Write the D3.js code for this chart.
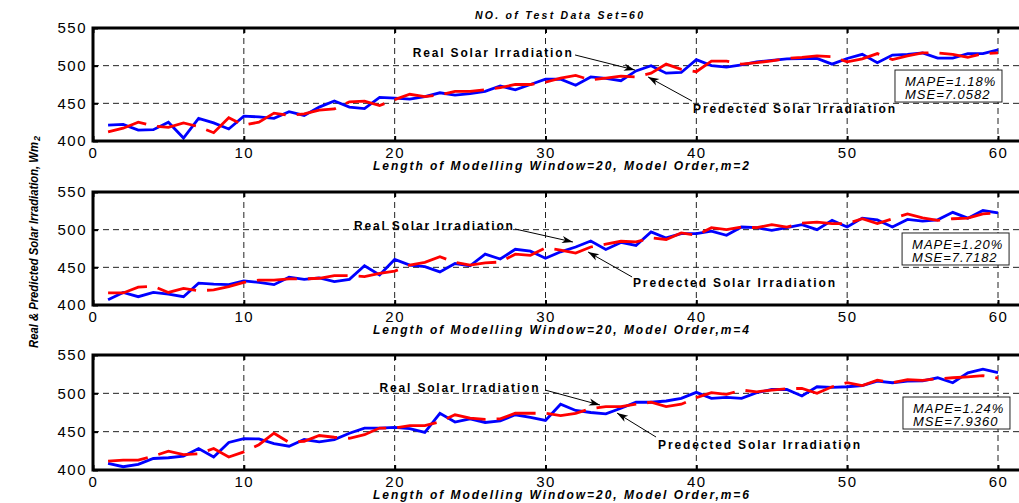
<!DOCTYPE html>
<html>
<head>
<meta charset="utf-8">
<script src="https://cdn.jsdelivr.net/npm/d3@7/dist/d3.min.js"></script>
<style>
  html, body { margin: 0; padding: 0; background: #fff; }
  svg { display: block; font-family: "Liberation Sans", Arial, Helvetica, sans-serif; }
</style>
</head>
<body>
<svg id="chart" width="1019" height="503"></svg>
<script>
// ---- data: 60 test samples, real vs predicted irradiation for three model orders ----
const modelOrders = [2, 4, 6];
const xTicks = [0, 10, 20, 30, 40, 50, 60];
const yTicks = [400, 450, 500, 550];
const mapeLabels = ["1.18%", "1.20%", "1.24%"];
const mseLabels = ["7.0582", "7.7182", "7.9360"];

const real1 = [421, 422, 414.5, 415, 425, 404, 430, 424, 416, 433,
  432, 430, 439, 434, 445, 453, 445, 443, 458, 457,
  455.5, 459, 464, 461, 463, 466, 473, 468, 475, 482,
  482, 474, 485, 483, 480, 493, 500, 490, 491, 508,
  500, 498, 501, 505, 507, 509, 509.5, 509.5, 502, 509.5,
  515, 504, 514, 515, 517, 510, 510, 516, 516, 521];
const pred1 = [412, 417, 425, 420, 418, 424, 419, 411, 431, 421,
  425, 437, 434, 436, 441, 442.5, 452, 453, 447, 455,
  462, 459, 461, 466, 466, 468, 471, 475, 475, 478,
  483.5, 487, 481, 483.5, 486, 485, 490, 502, 495, 492,
  506, 506, 502, 504, 506.5, 509.5, 511, 513, 512, 505,
  509, 516, 508, 513, 517, 517, 515, 511, 516, 517];

const real2 = [407, 416.7, 411, 416.7, 414.5, 411, 429, 427.6, 427, 432,
  430, 427, 437, 434, 436, 431, 434, 452, 440, 460.5,
  453, 451, 444, 455, 452, 467.5, 461, 474, 471.5, 462,
  470.6, 477, 485, 473.7, 483, 479, 497, 489, 494.7, 494.7,
  498, 492.5, 503.5, 502.6, 499, 502.6, 506.6, 500, 512.3, 503.5,
  515.3, 513, 503.5, 513.6, 511.4, 513, 523, 515.3, 525.4, 522.4];
const pred2 = [416, 416, 423.7, 425, 416.7, 422, 419, 420, 424.5, 430,
  433, 433, 434.6, 434.6, 435.5, 439, 439, 437.7, 442, 445,
  453, 456.6, 464, 456.6, 453, 456, 457, 467.5, 466, 476,
  473, 469, 477, 480.7, 484.6, 483.7, 489, 487, 495.6, 492.5,
  502.6, 500, 503.5, 502.6, 506.6, 503.5, 508.8, 510, 508, 508,
  514.5, 508, 514.5, 521, 515.8, 512.3, 514.5, 515.3, 521, 522];

const real3 = [408.6, 404.3, 407.3, 415, 416, 418, 428, 417, 436, 441,
  440.5, 434.5, 431, 439.7, 436.6, 439.7, 448, 454.7, 454.7, 455.6,
  454, 449, 474, 462.5, 466.8, 462, 464, 472, 468.5, 464.7,
  485.8, 477.6, 475, 473.3, 480.6, 488.4, 488.4, 490, 493.5, 501.3,
  493.5, 494.8, 493.5, 500.8, 505, 505, 496.5, 508.6, 507.8, 508.6,
  510, 516, 513.8, 516, 516.4, 520.3, 513.8, 526.7, 531.5, 527];
const pred3 = [411.6, 413, 413, 418, 424.6, 420, 421, 428, 417, 423.7,
  433, 448, 436, 437.5, 445, 442.7, 441.4, 446, 454.7, 454.7,
  457.8, 457.8, 463, 472, 467.7, 466, 466.8, 474, 474, 474,
  471, 474, 480, 482.7, 482.7, 485.8, 488.4, 482.7, 485.8, 494.4,
  500.8, 498.7, 504.3, 502, 504.3, 506, 506.5, 500, 508.6, 514,
  510, 517.3, 514, 518, 517, 519, 520.3, 521.6, 523, 520];

const realSeries = [real1, real2, real3];
const predSeries = [pred1, pred2, pred3];

// ---- annotation placement, in data units of each panel ----
// [text x, text baseline y, arrow tail x, tail y, arrow head x, head y]
const realNotes = [
  [21.2, 511.5, 31.96, 514.2, 35.93, 494.2],
  [17.3, 499.6, 27.98, 500.9, 31.82, 483.6],
  [19.0, 501.7, 29.97, 504.3, 33.61, 484.8]
];
const predNotes = [
  [39.78, 437.2, 39.71, 453.1, 36.8, 485.0],
  [35.8, 423.9, 35.74, 437.2, 32.82, 470.4],
  [37.46, 427.4, 37.33, 443.0, 34.74, 474.3]
];
// statistics box: [left x, top y] in data units
const statBoxes = [[53.17, 494.2], [53.64, 495.6], [53.7, 495.2]];

// ---- layout ----
const W = 1019, H = 503;
const plotLeft = 93, plotRight = 1024;
const frames = [
  { top: 28, bottom: 141 },
  { top: 192, bottom: 305 },
  { top: 355, bottom: 470 }
];

const svg = d3.select("#chart");
svg.append("rect").attr("width", W).attr("height", H).attr("fill", "#fff");

const x = d3.scaleLinear().domain([0, 60]).range([93, 998]);

const defs = svg.append("defs");
defs.append("marker")
  .attr("id", "arrowHead")
  .attr("viewBox", "-12 -6 14 12")
  .attr("refX", 0).attr("refY", 0)
  .attr("markerWidth", 14).attr("markerHeight", 12)
  .attr("markerUnits", "userSpaceOnUse")
  .attr("orient", "auto")
  .append("path")
  .attr("d", "M0,0 L-11,-3.6 L-8,0 L-11,3.6 Z")
  .attr("fill", "#000");

// title
svg.append("text")
  .attr("x", 475).attr("y", 19)
  .attr("textLength", 168).attr("lengthAdjust", "spacing")
  .style("font-size", "10.5px").style("font-weight", "bold").style("font-style", "italic")
  .text("NO. of Test Data Set=60");

// shared y label
const yLab = svg.append("text")
  .attr("transform", "translate(38,348) rotate(-90)")
  .style("font-size", "12.5px").style("font-weight", "bold").style("font-style", "italic");
yLab.append("tspan")
  .attr("textLength", 206).attr("lengthAdjust", "spacingAndGlyphs")
  .text("Real & Predicted Solar Irradiation, Wm");
yLab.append("tspan")
  .attr("dx", 1).attr("dy", 2)
  .style("font-size", "9px")
  .text("2");

modelOrders.forEach((order, k) => {
  const f = frames[k];
  const y = d3.scaleLinear().domain([400, 550]).range([f.bottom, f.top]);
  const g = svg.append("g");

  // dashed grid
  const grid = g.append("g")
    .attr("stroke", "#222").attr("stroke-width", 1).attr("stroke-dasharray", "6,4");
  grid.selectAll("line.v")
    .data(xTicks.filter(t => t > 0))
    .join("line").attr("class", "v")
    .attr("x1", d => x(d)).attr("x2", d => x(d))
    .attr("y1", f.top).attr("y2", f.bottom);
  grid.selectAll("line.h")
    .data(yTicks.filter(t => t > 400 && t < 550))
    .join("line").attr("class", "h")
    .attr("x1", plotLeft).attr("x2", plotRight)
    .attr("y1", d => y(d)).attr("y2", d => y(d));

  // axes (ticks point inward)
  const fontStyle = sel => sel.selectAll("text")
    .style("font-size", "15px").style("letter-spacing", "1.5px")
    .attr("fill", "#000")
    .style("font-family", "'Liberation Sans', Arial, sans-serif");

  const yAxis = g.append("g")
    .attr("transform", `translate(${plotLeft},0)`)
    .call(d3.axisLeft(y).tickValues(yTicks).tickSizeInner(-5).tickSizeOuter(0).tickPadding(6));
  yAxis.select(".domain").remove();
  yAxis.selectAll("line").attr("stroke", "#000").attr("stroke-width", 2);
  fontStyle(yAxis);

  const xAxis = g.append("g")
    .attr("transform", `translate(0,${f.bottom})`)
    .call(d3.axisBottom(x).tickValues(xTicks).tickSizeInner(-5).tickSizeOuter(0).tickPadding(6));
  xAxis.select(".domain").remove();
  xAxis.selectAll("line").attr("stroke", "#000").attr("stroke-width", 2);
  fontStyle(xAxis);

  const xTop = g.append("g")
    .attr("transform", `translate(0,${f.top})`)
    .call(d3.axisTop(x).tickValues(xTicks).tickSizeInner(-5).tickSizeOuter(0).tickFormat(""));
  xTop.select(".domain").remove();
  xTop.selectAll("line").attr("stroke", "#000").attr("stroke-width", 2);

  // series
  const line = d3.line().x((d, i) => x(i + 1)).y(d => y(d));
  g.append("path")
    .datum(realSeries[k])
    .attr("d", line)
    .attr("fill", "none").attr("stroke", "#0000ff")
    .attr("stroke-width", 2.8).attr("stroke-linejoin", "miter");
  g.append("path")
    .datum(predSeries[k])
    .attr("d", line)
    .attr("fill", "none").attr("stroke", "#ff0000")
    .attr("stroke-width", 2.8).attr("stroke-dasharray", "40,11");

  // frame
  g.append("rect")
    .attr("x", plotLeft).attr("y", f.top)
    .attr("width", plotRight - plotLeft).attr("height", f.bottom - f.top)
    .attr("fill", "none").attr("stroke", "#000").attr("stroke-width", 3);

  // x label
  g.append("text")
    .attr("x", 373).attr("y", f.bottom + 29)
    .attr("textLength", 376).attr("lengthAdjust", "spacing")
    .style("font-size", "12px").style("font-weight", "bold").style("font-style", "italic")
    .text(`Length of Modelling Window=20, Model Order,m=${order}`);

  // annotations
  const addNote = (n, label, len) => {
    g.append("line")
      .attr("x1", x(n[2])).attr("y1", y(n[3]))
      .attr("x2", x(n[4])).attr("y2", y(n[5]))
      .attr("stroke", "#000").attr("stroke-width", 1)
      .attr("marker-end", "url(#arrowHead)");
    g.append("text")
      .attr("x", x(n[0])).attr("y", y(n[1]))
      .attr("textLength", len).attr("lengthAdjust", "spacing")
      .style("font-size", "12px").style("font-weight", "bold")
      .text(label);
  };
  addNote(realNotes[k], "Real Solar Irradiation", 159);
  addNote(predNotes[k], "Predected Solar Irradiation", 202);

  // statistics box
  const bx = x(statBoxes[k][0]), by = y(statBoxes[k][1]);
  g.append("rect")
    .attr("x", bx).attr("y", by).attr("width", 107).attr("height", 32)
    .attr("fill", "#fff").attr("stroke", "#222").attr("stroke-width", 1);
  const st = g.append("text")
    .style("font-size", "13px").style("font-style", "italic").style("letter-spacing", "1px");
  st.append("tspan").attr("x", bx + 10).attr("y", by + 16).text(`MAPE=${mapeLabels[k]}`);
  st.append("tspan").attr("x", bx + 10).attr("y", by + 29).text(`MSE=${mseLabels[k]}`);
});
</script>
</body>
</html>
